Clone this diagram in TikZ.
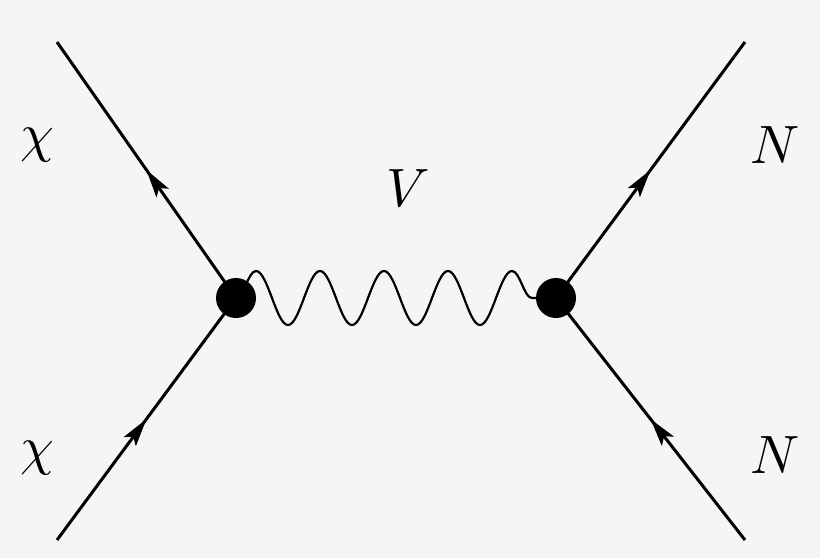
\documentclass[tikz,border=0pt]{standalone}
\usepackage{graphicx}
\usetikzlibrary{decorations.pathmorphing,decorations.markings,arrows.meta}
\begin{document}
\begin{tikzpicture}[x=1pt,y=-1pt,
  fermion/.style={line width=3pt,postaction={decorate},decoration={markings,mark=at position 0.5 with {\arrow{Stealth[length=28pt,width=15pt,inset=6pt]}}}},
  boson/.style={line width=2.2pt,decorate,decoration={snake,segment length=64pt,amplitude=27pt}},
  vtx/.style={circle,fill=black,inner sep=0pt,minimum size=40pt}]
\fill[black!4] (0,0) rectangle (820,558);
\useasboundingbox (0,0) rectangle (820,558);
\coordinate (tl) at (57,42); \coordinate (bl) at (57,540);
\coordinate (tr) at (745,42); \coordinate (br) at (745,540);
\coordinate (L) at (236,298); \coordinate (R) at (556,298);
\draw[boson] (L) -- (R);
\draw[fermion] (L) -- (tl);
\draw[fermion] (bl) -- (L);
\draw[fermion] (R) -- (tr);
\draw[fermion] (br) -- (R);
\node[vtx] (vl) at (L) {};
\node[vtx] (vr) at (R) {};
\node (c1) at (37,145) {\scalebox{5.4}{$\chi$}};
\node (c2) at (37,458) {\scalebox{5.4}{$\chi$}};
\node (n1) at (775,145) {\scalebox{5.4}{$N$}};
\node (n2) at (775,455) {\scalebox{5.4}{$N$}};
\node (v) at (408,188) {\scalebox{5.4}{$V$}};
\end{tikzpicture}
\end{document}
